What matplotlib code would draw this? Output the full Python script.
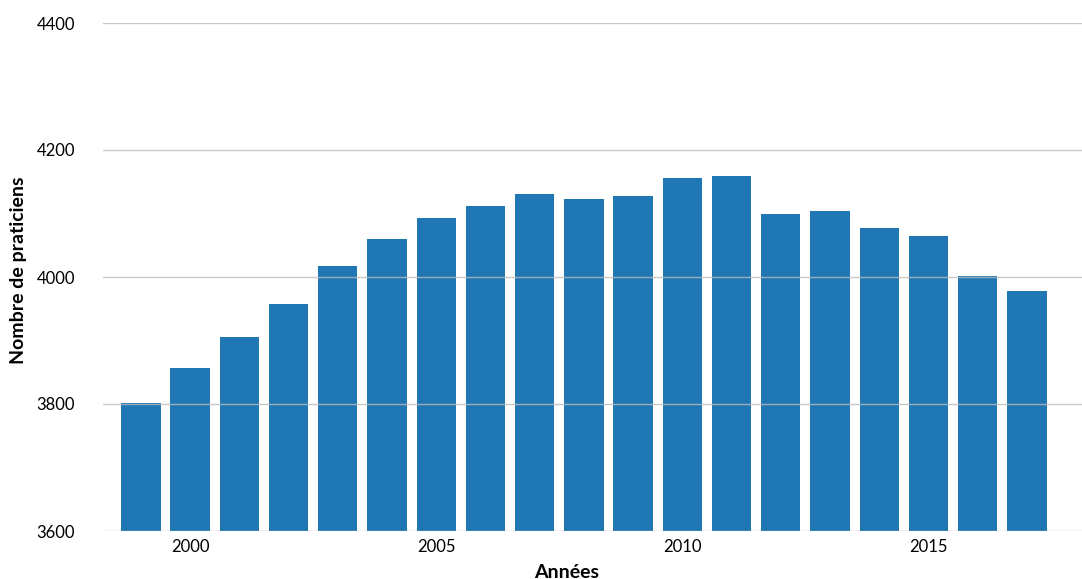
import numpy as np
import matplotlib.pyplot as plt

plt.rcParams['font.family'] = ['Lato', 'DejaVu Sans']

# Effectifs par année
annees = list(range(1999, 2018))
praticiens = [3802, 3857, 3906, 3957, 4017, 4060, 4093, 4112, 4131, 4123,
              4128, 4156, 4159, 4099, 4104, 4077, 4065, 4002, 3978]
ticks_x = [2000, 2005, 2010, 2015]
ticks_y = [3600, 3800, 4000, 4200, 4400]

fig = plt.figure(figsize=(10.82, 5.79), dpi=100)
ax = fig.add_axes([103 / 1082, 1 - 531 / 579, (1082 - 103) / 1082, (531 - 23) / 579])

ax.bar(annees, praticiens, width=0.8, color='#1f77b4', zorder=1)
ax.set_ylim(3600, 4400)
ax.set_xlim(1998.23, 2018.12)
ax.set_yticks(ticks_y)
ax.set_xticks(ticks_x)
ax.grid(axis='y', color='#bbbbbb', linewidth=1, alpha=0.8, zorder=3)
ax.set_axisbelow(False)
for s in ax.spines.values():
    s.set_visible(False)
ax.tick_params(length=0, labelsize=12, pad=6)
ax.tick_params(axis='y', pad=20)

ax.set_xlabel("Années", fontsize=14, fontweight='bold')
ax.xaxis.set_label_coords(0.474, -0.064)
ax.set_ylabel("Nombre de praticiens", fontsize=14, fontweight='bold')
ax.yaxis.set_label_coords(-0.078, 0.514)

fig.savefig('out.png', dpi=100)
